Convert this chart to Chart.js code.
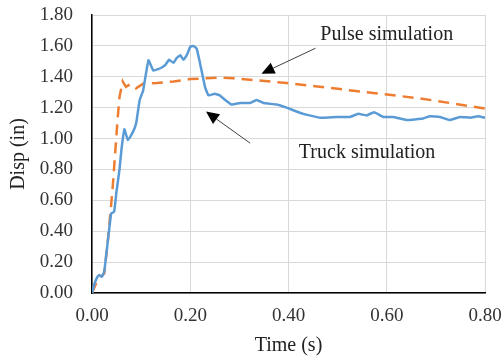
<!DOCTYPE html>
<html>
<head>
<meta charset="utf-8">
<script src="https://cdn.jsdelivr.net/npm/chart.js@4"></script>
<style>
  body { margin: 0; background: #fff; }
  #wrap { width: 504px; height: 358px; position: relative; }
</style>
</head>
<body>
<div id="wrap"><canvas id="myChart"></canvas></div>
<script>
// données
let truckTime = [0, 0.005, 0.011, 0.015, 0.02, 0.025, 0.032, 0.039, 0.045, 0.05, 0.056, 0.06, 0.066, 0.073, 0.083, 0.09, 0.097, 0.104, 0.115, 0.125, 0.135, 0.142, 0.149, 0.157, 0.166, 0.172, 0.18, 0.186, 0.193, 0.2, 0.206, 0.213, 0.22, 0.23, 0.237, 0.25, 0.26, 0.271, 0.284, 0.301, 0.322, 0.335, 0.349, 0.376, 0.396, 0.43, 0.464, 0.498, 0.525, 0.542, 0.559, 0.574, 0.593, 0.613, 0.641, 0.674, 0.688, 0.708, 0.729, 0.749, 0.77, 0.786, 0.8]
let truckDisp = [0, 0.06, 0.105, 0.116, 0.105, 0.14, 0.33, 0.515, 0.526, 0.66, 0.8, 0.93, 1.06, 0.99, 1.04, 1.1, 1.25, 1.31, 1.507, 1.44, 1.45, 1.46, 1.475, 1.51, 1.49, 1.52, 1.54, 1.51, 1.54, 1.594, 1.6, 1.583, 1.486, 1.335, 1.28, 1.29, 1.28, 1.25, 1.22, 1.23, 1.23, 1.25, 1.23, 1.22, 1.2, 1.16, 1.135, 1.14, 1.14, 1.16, 1.15, 1.17, 1.14, 1.14, 1.12, 1.13, 1.145, 1.14, 1.12, 1.14, 1.135, 1.145, 1.135]

let pulseTime = [0, 0.008, 0.018, 0.025, 0.033, 0.042, 0.052, 0.056, 0.0625, 0.069, 0.077, 0.083, 0.0896, 0.104, 0.132, 0.166, 0.2, 0.233, 0.26, 0.288, 0.396, 0.532, 0.668, 0.8]
let pulseDisp = [0, 0.06, 0.105, 0.127, 0.36, 0.68, 1.12, 1.27, 1.37, 1.335, 1.35, 1.345, 1.325, 1.355, 1.36, 1.37, 1.385, 1.39, 1.395, 1.39, 1.36, 1.31, 1.26, 1.195]

let xTicks = [0, 0.2, 0.4, 0.6, 0.8]
let yTicks = [0, 0.2, 0.4, 0.6, 0.8, 1.0, 1.2, 1.4, 1.6, 1.8]

const police = "'Liberation Serif', 'Times New Roman', serif"

function points(xs, ys) {
  return xs.map((x, i) => ({ x: x, y: ys[i] }))
}

// les flèches + texte (en coordonnées des données)
const fleches = {
  id: 'fleches',
  afterDraw(chart) {
    const ctx = chart.ctx
    const sx = chart.scales.x, sy = chart.scales.y
    const notes = [
      { text: 'Pulse simulation', tx: 0.60, ty: 1.67, from: [0.455, 1.585], to: [0.345, 1.42] },
      { text: 'Truck simulation', tx: 0.56, ty: 0.906, from: [0.322, 0.97], to: [0.232, 1.175] }
    ]
    ctx.save()
    notes.forEach(n => {
      ctx.font = '20px ' + police
      ctx.fillStyle = '#222'
      ctx.textAlign = 'center'
      ctx.textBaseline = 'middle'
      ctx.fillText(n.text, sx.getPixelForValue(n.tx), sy.getPixelForValue(n.ty))

      let x1 = sx.getPixelForValue(n.from[0]), y1 = sy.getPixelForValue(n.from[1])
      let x2 = sx.getPixelForValue(n.to[0]), y2 = sy.getPixelForValue(n.to[1])
      let ang = Math.atan2(y2 - y1, x2 - x1)
      let len = 13, w = 6
      let bx = x2 - len * Math.cos(ang), by = y2 - len * Math.sin(ang)
      ctx.strokeStyle = '#404040'
      ctx.lineWidth = 1
      ctx.beginPath()
      ctx.moveTo(x1, y1)
      ctx.lineTo(bx, by)
      ctx.stroke()
      ctx.fillStyle = '#000'
      ctx.beginPath()
      ctx.moveTo(x2, y2)
      ctx.lineTo(bx + w * Math.sin(ang), by - w * Math.cos(ang))
      ctx.lineTo(bx - w * Math.sin(ang), by + w * Math.cos(ang))
      ctx.closePath()
      ctx.fill()
    })
    ctx.restore()
  }
}

const lineCanvas = document.getElementById('myChart')

const monChart = new Chart(lineCanvas, {
  type: 'line',
  data: {
    datasets: [{
      label: 'Truck simulation',
      data: points(truckTime, truckDisp),
      borderColor: '#5B9BD5',
      borderWidth: 2.5,
      pointRadius: 0,
      tension: 0.1
    }, {
      label: 'Pulse simulation',
      data: points(pulseTime, pulseDisp),
      borderColor: '#ED7D31',
      borderWidth: 2.5,
      borderDash: [11, 7],
      pointRadius: 0,
      tension: 0
    }]
  },
  options: {
    responsive: true,
    maintainAspectRatio: false,
    animation: false,
    layout: { padding: 0 },
    plugins: { legend: { display: false }, tooltip: { enabled: false } },
    scales: {
      x: {
        type: 'linear',
        min: 0,
        max: 0.8,
        afterBuildTicks: s => { s.ticks = xTicks.map(v => ({ value: v })) },
        // marges fixes pour coller à l'image
        afterFit: s => { s.height = 65; s.paddingLeft = 0; s.paddingRight = 19 },
        ticks: {
          padding: 12,
          color: '#333',
          font: { family: police, size: 19 },
          callback: v => v.toFixed(2)
        },
        grid: { color: '#d9d9d9', drawTicks: false },
        border: { color: '#000', width: 1.5 },
        title: {
          display: true,
          text: 'Time (s)',
          color: '#222',
          font: { family: police, size: 20 },
          padding: { top: 0, bottom: 0 }
        }
      },
      y: {
        min: 0,
        max: 1.8,
        afterBuildTicks: s => { s.ticks = yTicks.map(v => ({ value: v })) },
        afterFit: s => { s.width = 92; s.paddingTop = 15; s.paddingBottom = 0 },
        ticks: {
          padding: 19,
          color: '#333',
          font: { family: police, size: 19 },
          callback: v => v.toFixed(2)
        },
        grid: { color: '#d9d9d9', drawTicks: false },
        border: { color: '#000', width: 1.5 },
        title: {
          display: true,
          text: 'Disp (in)',
          color: '#222',
          font: { family: police, size: 20 },
          padding: { top: 7, bottom: 0 }
        }
      }
    }
  },
  plugins: [fleches]
})
</script>
</body>
</html>
